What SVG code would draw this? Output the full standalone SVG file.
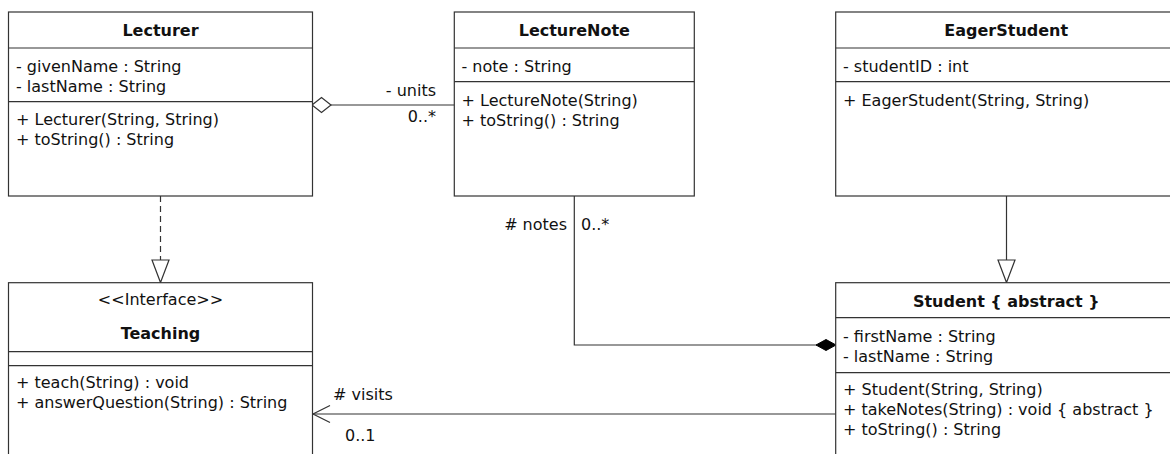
<svg xmlns="http://www.w3.org/2000/svg" width="1170" height="454" viewBox="0 0 1170 454">
<style>
.box{fill:#fff;stroke:#333;stroke-width:1.2}
.div{stroke:#333;stroke-width:1.2}
text{font-family:"DejaVu Sans",Verdana,sans-serif;font-size:16px;fill:#111}
.t{font-weight:bold;text-anchor:middle}
.st{text-anchor:middle}
.e{text-anchor:end}
.ln{fill:none;stroke:#333;stroke-width:1.2}
</style>
<rect width="1170" height="454" fill="#fff"/>
<g id="connectors">
  <!-- aggregation Lecturer - LectureNote -->
  <path class="ln" d="M331,105 H454"/>
  <path d="M312,105 L321.5,97.5 L331,105 L321.5,112.5 Z" fill="#fff" stroke="#333" stroke-width="1.2"/>
  <text class="e" x="436" y="96">- units</text>
  <text class="e" x="436" y="122">0..*</text>
  <!-- realization Lecturer - Teaching -->
  <path class="ln" d="M160.5,196 V260" stroke-dasharray="6,4"/>
  <path d="M152,260 L169,260 L160.5,282.5 Z" fill="#fff" stroke="#333" stroke-width="1.2"/>
  <!-- generalization EagerStudent - Student -->
  <path class="ln" d="M1006.5,196 V260"/>
  <path d="M998,260 L1015,260 L1006.5,282.5 Z" fill="#fff" stroke="#333" stroke-width="1.2"/>
  <!-- composition LectureNote - Student -->
  <path class="ln" d="M574.3,196 V345 H817"/>
  <path d="M816,345 L826,339.5 L836,345 L826,350.5 Z" fill="#000" stroke="#000" stroke-width="1"/>
  <text class="e" x="567" y="230"># notes</text>
  <text x="581" y="230">0..*</text>
  <!-- association Student - Teaching -->
  <path class="ln" d="M836,414 H313"/>
  <path class="ln" d="M330,405.5 L313,414 L330,422.5"/>
  <text x="333" y="400"># visits</text>
  <text x="345" y="441">0..1</text>
</g>
<g id="Lecturer">
  <rect class="box" x="8.5" y="12" width="304" height="184"/>
  <line class="div" x1="8.5" y1="48" x2="312.5" y2="48"/>
  <line class="div" x1="8.5" y1="101.7" x2="312.5" y2="101.7"/>
  <text class="t" x="160.5" y="36">Lecturer</text>
  <text x="16" y="72">- givenName : String</text>
  <text x="16" y="92">- lastName : String</text>
  <text x="16" y="125">+ Lecturer(String, String)</text>
  <text x="16" y="145">+ toString() : String</text>
</g>
<g id="LectureNote">
  <rect class="box" x="454.3" y="12" width="240" height="184"/>
  <line class="div" x1="454.3" y1="48" x2="694.3" y2="48"/>
  <line class="div" x1="454.3" y1="81.7" x2="694.3" y2="81.7"/>
  <text class="t" x="574.3" y="36">LectureNote</text>
  <text x="461.5" y="72">- note : String</text>
  <text x="461.5" y="106">+ LectureNote(String)</text>
  <text x="461.5" y="126">+ toString() : String</text>
</g>
<g id="EagerStudent">
  <rect class="box" x="835.7" y="12" width="341" height="184"/>
  <line class="div" x1="835.7" y1="48" x2="1176.7" y2="48"/>
  <line class="div" x1="835.7" y1="81.7" x2="1176.7" y2="81.7"/>
  <text class="t" x="1006.2" y="36">EagerStudent</text>
  <text x="843" y="72">- studentID : int</text>
  <text x="843" y="106">+ EagerStudent(String, String)</text>
</g>
<g id="Teaching">
  <rect class="box" x="8.5" y="282.7" width="304" height="190"/>
  <line class="div" x1="8.5" y1="351.7" x2="312.5" y2="351.7"/>
  <line class="div" x1="8.5" y1="365.7" x2="312.5" y2="365.7"/>
  <text class="st" x="160.5" y="305">&lt;&lt;Interface&gt;&gt;</text>
  <text class="t" x="160.5" y="339">Teaching</text>
  <text x="16" y="388">+ teach(String) : void</text>
  <text x="16" y="408">+ answerQuestion(String) : String</text>
</g>
<g id="Student">
  <rect class="box" x="835.7" y="282.7" width="341" height="190"/>
  <line class="div" x1="835.7" y1="317.7" x2="1176.7" y2="317.7"/>
  <line class="div" x1="835.7" y1="372.7" x2="1176.7" y2="372.7"/>
  <text class="t" x="1006.2" y="307">Student { abstract }</text>
  <text x="843" y="341.5">- firstName : String</text>
  <text x="843" y="361.5">- lastName : String</text>
  <text x="843" y="395">+ Student(String, String)</text>
  <text x="843" y="415">+ takeNotes(String) : void { abstract }</text>
  <text x="843" y="435">+ toString() : String</text>
</g>
</svg>
